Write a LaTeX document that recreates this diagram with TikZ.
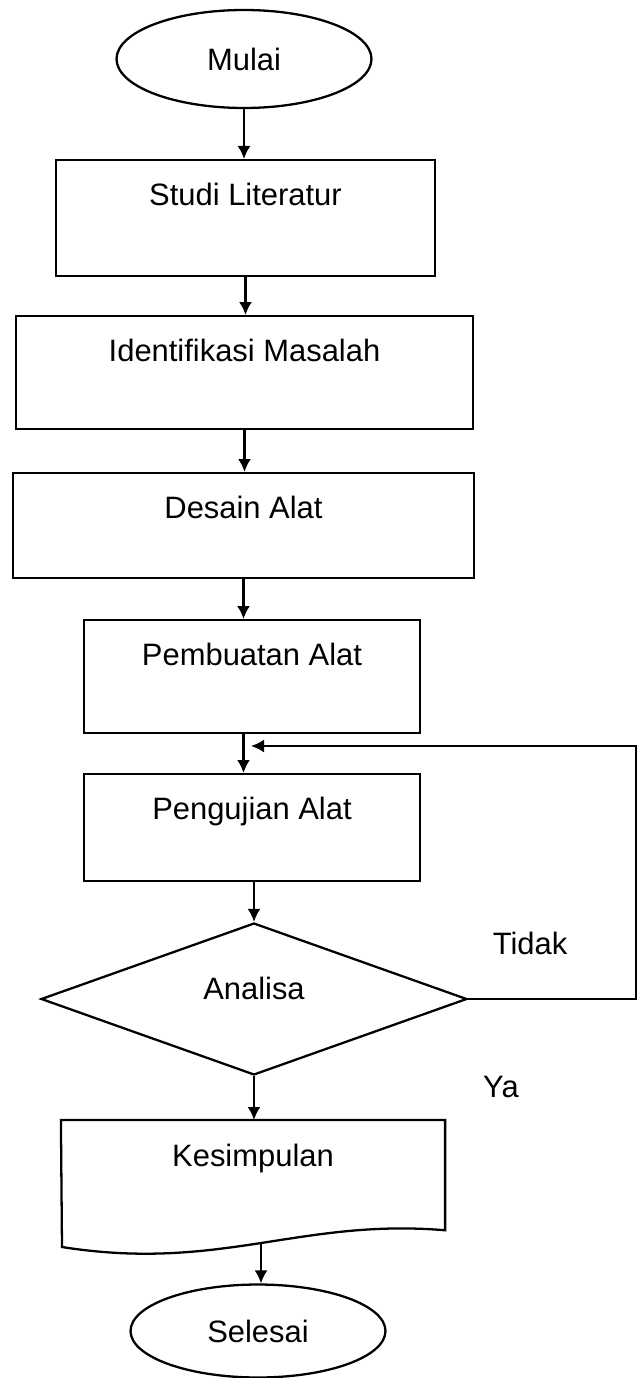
\documentclass[tikz,border=0pt]{standalone}
\usepackage{fontspec}
\setmainfont{Liberation Sans}
\usetikzlibrary{shapes.geometric,arrows.meta}
\begin{document}
\begin{tikzpicture}[x=0.02cm, y=-0.02cm, >={Latex[length=2.6mm,width=2.6mm]},
% common options for blocks:
block/.style = {draw, line width=1.3pt, align=center, anchor=north, inner sep=0,
            text height=0.9cm, font=\fontsize{17.6}{21}\selectfont},
% common options for the ovals:
oval/.style = {ellipse, draw, line width=1.3pt, inner sep=0, minimum width=5.1cm,
            font=\fontsize{17.6}{21}\selectfont},
% the decision:
choice/.style = {diamond, draw, line width=1.3pt, inner sep=0, aspect=2.8,
            minimum width=8.52cm, minimum height=3.04cm, text height=0.44cm,
            text depth=0.44cm, font=\fontsize{17.6}{21}\selectfont},
tag/.style = {font=\fontsize{17.6}{21}\selectfont},
line/.style = {line width=1.3pt}]
\useasboundingbox (0,0) rectangle (639,1378);
\node[oval, minimum height=1.96cm] (A0) at (244,59) {Mulai};
\node[block, minimum width=7.58cm, text depth=1.42cm] (A1) at (245.5,159) {Studi Literatur};
\node[block, minimum width=9.14cm, text depth=1.36cm] (A2) at (244.5,315) {Identifikasi Masalah};
\node[block, minimum width=9.22cm, text depth=1.2cm] (A3) at (243.5,472) {Desain Alat};
\node[block, minimum width=6.72cm, text depth=1.36cm] (A4) at (252,619) {Pembuatan Alat};
\node[block, minimum width=6.72cm, text depth=1.24cm] (A5) at (252,773) {Pengujian Alat};
\node[choice] (A6) at (254,999) {Analisa};
\node[block, draw=none, minimum width=7.64cm, text depth=1.26cm] (A7) at (253,1120) {Kesimpulan};
\node[oval, minimum height=1.86cm] (A8) at (258,1331) {Selesai};
% wavy bottom of the document
\draw[line] (A7.north west) -- (A7.north east) -- (A7.south east)
    .. controls (300,1218) and (220,1272) .. (62,1247) -- cycle;
\coordinate (W0) at (261,1243);
% loop back
\coordinate (B0) at (636,746);
\coordinate (B1) at (251,746);
\node[tag] (T0) at (530,943) {Tidak};
\node[tag] (T1) at (501,1087) {Ya};
\draw[->, line] (A0.south) -- (A0.south |- A1.north);
\draw[->, line] (A1.south) -- (A1.south |- A2.north);
\draw[->, line] (A2.south) -- (A2.south |- A3.north);
\draw[->, line] (A3.south) -- (A3.south |- A4.north);
\draw[->, line] (A4.south -| A3.south) -- (A5.north -| A3.south);
\draw[->, line] (A5.south -| A6.north) -- (A6.north);
\draw[->, line] (A6.south) -- (A6.south |- A7.north);
\draw[->, line] (W0) -- (W0 |- A8.north);
\draw[->, line] (A6.east) -| (B0) -- (B1);
\end{tikzpicture}
\end{document}
